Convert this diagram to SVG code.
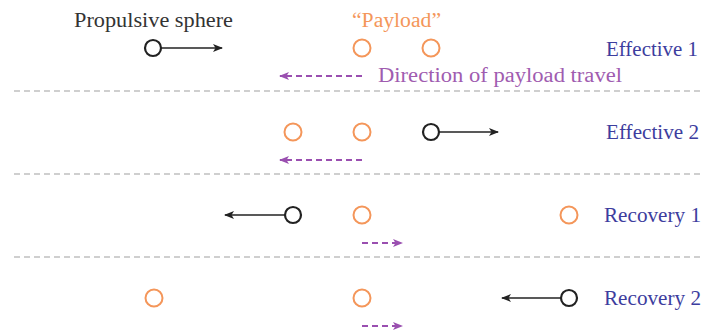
<svg xmlns="http://www.w3.org/2000/svg" width="703" height="331" viewBox="0 0 703 331">
<style>
.lbl{fill:#3d3d9e}
.blk{fill:#333}
.org{fill:#f4965a}
.pur{fill:#a05cb0}
.pl{fill:none;stroke:#f4965a;stroke-width:2}
.ps{fill:#fff;stroke:#222;stroke-width:2.2}
.arr{stroke:#222;stroke-width:1.6;fill:none}
.dir{stroke:#9a4fb0;stroke-width:2;stroke-dasharray:6 4;fill:none}
.sep{stroke:#a0a0a0;stroke-width:1.2;stroke-dasharray:6 4;fill:none}
</style>
<defs>
<marker id="ah" viewBox="0 0 10 8" refX="9" refY="4" markerWidth="10" markerHeight="8" markerUnits="userSpaceOnUse" orient="auto"><path d="M0,0 L10,4 L0,8 L2.5,4 Z" fill="#222"/></marker>
<marker id="ap" viewBox="0 0 10 8" refX="9" refY="4" markerWidth="10" markerHeight="8" markerUnits="userSpaceOnUse" orient="auto"><path d="M0,0 L10,4 L0,8 L2.5,4 Z" fill="#9a4fb0"/></marker>
</defs>
<g font-family="Liberation Serif, Times New Roman, DejaVu Serif, serif" font-size="20.5">
<g id="headers">
<text class="blk" x="74" y="27" textLength="159" lengthAdjust="spacingAndGlyphs">Propulsive sphere</text>
<text class="org" x="352" y="27" textLength="89" lengthAdjust="spacingAndGlyphs">“Payload”</text>
</g>
<g id="separators">
<line class="sep" x1="14" y1="91" x2="703" y2="91"/>
<line class="sep" x1="14" y1="174" x2="703" y2="174"/>
<line class="sep" x1="14" y1="257" x2="703" y2="257"/>
</g>
<g id="connectors">
<line class="arr" x1="161" y1="48" x2="222" y2="48" marker-end="url(#ah)"/>
<line class="dir" x1="362" y1="76" x2="280" y2="76" marker-end="url(#ap)"/>
<line class="arr" x1="439" y1="132" x2="498" y2="132" marker-end="url(#ah)"/>
<line class="dir" x1="362" y1="160" x2="280" y2="160" marker-end="url(#ap)"/>
<line class="arr" x1="285" y1="215" x2="225" y2="215" marker-end="url(#ah)"/>
<line class="dir" x1="362" y1="243" x2="402" y2="243" marker-end="url(#ap)"/>
<line class="arr" x1="561" y1="298" x2="502" y2="298" marker-end="url(#ah)"/>
<line class="dir" x1="362" y1="326" x2="402" y2="326" marker-end="url(#ap)"/>
</g>
<g id="row1">
<circle class="ps" cx="153" cy="48" r="8"/>
<circle class="pl" cx="362" cy="48" r="8.5"/>
<circle class="pl" cx="431" cy="48" r="8.5"/>
<text class="pur" x="378" y="82" textLength="244" lengthAdjust="spacingAndGlyphs">Direction of payload travel</text>
<text class="lbl" x="606" y="56" textLength="92" lengthAdjust="spacingAndGlyphs">Effective 1</text>
</g>
<g id="row2">
<circle class="pl" cx="293" cy="132" r="8.5"/>
<circle class="pl" cx="362" cy="132" r="8.5"/>
<circle class="ps" cx="431" cy="132" r="8"/>
<text class="lbl" x="606" y="139" textLength="93" lengthAdjust="spacingAndGlyphs">Effective 2</text>
</g>
<g id="row3">
<circle class="ps" cx="293" cy="215" r="8"/>
<circle class="pl" cx="362" cy="215" r="8.5"/>
<circle class="pl" cx="569" cy="215" r="8.5"/>
<text class="lbl" x="604" y="222" textLength="97" lengthAdjust="spacingAndGlyphs">Recovery 1</text>
</g>
<g id="row4">
<circle class="pl" cx="154" cy="298" r="8.5"/>
<circle class="pl" cx="362" cy="298" r="8.5"/>
<circle class="ps" cx="569" cy="298" r="8"/>
<text class="lbl" x="604" y="305" textLength="97" lengthAdjust="spacingAndGlyphs">Recovery 2</text>
</g>
</g>
</svg>
